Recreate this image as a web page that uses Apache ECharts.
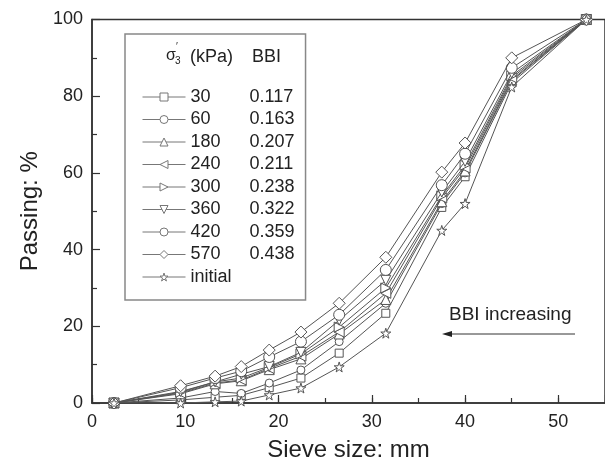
<!DOCTYPE html>
<html><head><meta charset="utf-8">
<script src="https://cdn.jsdelivr.net/npm/echarts@6/dist/echarts.min.js"></script>
<style>html,body{margin:0;padding:0;background:#fff}#c{width:605px;height:470px}</style>
</head><body><div id="c"></div>
<script>
// ---- data ----
const sieveSizes = [2.36, 9.5, 13.2, 16, 19, 22.4, 26.5, 31.5, 37.5, 40, 45, 53];
const seriesNames = ['30', '60', '180', '240', '300', '360', '420', '570', 'initial'];
const bbiValues = ['0.117', '0.163', '0.207', '0.211', '0.238', '0.322', '0.359', '0.438', ''];
const pass30   = [0, 0.8, 1.5, 2.0, 4.0, 6.5, 13.0, 23.4, 51.0, 59.0, 83.5, 100];
const pass60   = [0, 1.3, 3.0, 2.5, 5.2, 8.6, 16.0, 26.0, 52.0, 60.0, 84.0, 100];
const pass180  = [0, 2.4, 5.0, 5.8, 8.7, 11.5, 18.0, 27.0, 52.5, 60.5, 84.3, 100];
const pass240  = [0, 2.6, 5.2, 6.0, 9.0, 12.2, 18.5, 28.6, 53.5, 61.3, 84.8, 100];
const pass300  = [0, 2.8, 5.5, 6.5, 9.3, 12.8, 19.8, 30.0, 54.0, 62.0, 85.3, 100];
const pass360  = [0, 3.0, 5.5, 7.5, 9.5, 13.2, 21.6, 32.0, 55.0, 63.0, 86.0, 100];
const pass420  = [0, 4.0, 6.5, 8.3, 12.0, 16.0, 23.0, 34.7, 56.8, 65.0, 87.4, 100];
const pass570  = [0, 4.5, 7.0, 9.5, 13.8, 18.5, 26.0, 38.0, 60.2, 67.8, 90.0, 100];
const passInit = [0, 0, 0.3, 0.5, 2.1, 3.9, 9.4, 18.2, 45.0, 52.0, 82.4, 100];
const allPassing = [pass30, pass60, pass180, pass240, pass300, pass360, pass420, pass570, passInit];
const xTickLabels = [0, 10, 20, 30, 40, 50];
const yTickLabels = [0, 20, 40, 60, 80, 100];

// ---- styles ----
const STAR = 'path://M50,0 L61,35 L98,35 L68,57 L79,91 L50,70 L21,91 L32,57 L2,35 L39,35 Z';
const symbolStyles = [
  {symbol: 'rect', size: 8, rot: 0},
  {symbol: 'circle', size: 8, rot: 0},
  {symbol: 'triangle', size: 10, rot: 0},
  {symbol: 'triangle', size: 10, rot: 90},
  {symbol: 'triangle', size: 10, rot: -90},
  {symbol: 'triangle', size: 10, rot: 180},
  {symbol: 'circle', size: 11, rot: 0},
  {symbol: 'diamond', size: 12, rot: 0},
  {symbol: STAR, size: 10, rot: 0}
];
const FONT = 'Liberation Sans, Arial, sans-serif';
const INK = '#222';
const LINE = '#555';

const bbiMap = {};
seriesNames.forEach((n, i) => { bbiMap[n] = bbiValues[i]; });

const series = seriesNames.map((name, i) => ({
  name: name,
  type: 'line',
  xAxisIndex: 0,
  data: sieveSizes.map((x, j) => [x, allPassing[i][j]]),
  symbol: symbolStyles[i].symbol,
  symbolSize: symbolStyles[i].size,
  symbolRotate: symbolStyles[i].rot,
  showAllSymbol: true,
  lineStyle: {color: LINE, width: 1},
  itemStyle: {color: '#fff', borderColor: LINE, borderWidth: 1},
  emphasis: {disabled: true},
  animation: false,
  z: 3 + i
}));

const chart = echarts.init(document.getElementById('c'), null, {renderer: 'canvas'});
chart.setOption({
  backgroundColor: '#fff',
  animation: false,
  grid: {left: 92, top: 19.5, right: -7, bottom: 67, show: true, borderColor: '#333', borderWidth: 1.5, backgroundColor: 'transparent'},
  xAxis: [
    {
      type: 'value', min: 0, max: 55, interval: 5, position: 'bottom',
      axisLine: {show: true, lineStyle: {color: '#333', width: 1.5}},
      axisTick: {show: true, inside: true, length: 5, lineStyle: {color: '#333', width: 1.2}},
      axisLabel: {
        show: true, margin: 10, color: INK, fontFamily: FONT, fontSize: 18,
        showMaxLabel: false,
        formatter: v => (xTickLabels.indexOf(v) >= 0 ? String(v) : '')
      },
      splitLine: {show: false},
      name: 'Sieve size: mm', nameLocation: 'middle', nameGap: 35,
      nameTextStyle: {color: INK, fontFamily: FONT, fontSize: 24}
    },
    {
      type: 'value', min: 0, max: 55, interval: 10, position: 'bottom',
      axisLine: {show: false},
      axisTick: {show: true, inside: true, length: 8, lineStyle: {color: '#333', width: 1.2}},
      axisLabel: {show: false},
      splitLine: {show: false}
    }
  ],
  yAxis: {
    type: 'value', min: 0, max: 100, interval: 20,
    axisLine: {show: true, lineStyle: {color: '#333', width: 1.5}},
    axisTick: {show: true, inside: true, length: 8, lineStyle: {color: '#333', width: 1.2}},
    minorTick: {show: true, splitNumber: 2, length: 5, lineStyle: {color: '#333', width: 1.2}},
    axisLabel: {margin: 9, color: INK, fontFamily: FONT, fontSize: 18,
      formatter: v => (yTickLabels.indexOf(v) >= 0 ? String(v) : '')},
    splitLine: {show: false},
    name: 'Passing: %', nameLocation: 'middle', nameGap: 50,
    nameTextStyle: {color: INK, fontFamily: FONT, fontSize: 24}
  },
  legend: {
    show: true,
    orient: 'vertical',
    left: 125, top: 34,
    padding: [54, 11, 14, 17],
    borderColor: '#888', borderWidth: 1.5,
    backgroundColor: '#fff',
    itemWidth: 43, itemHeight: 10, itemGap: 4.5,
    selectedMode: false,
    symbolRotate: 'inherit',
    lineStyle: {width: 1, color: '#777'},
    itemStyle: {borderColor: '#777', borderWidth: 1},
    data: seriesNames,
    formatter: name => '{n|' + name + '}{b|' + bbiMap[name] + '}',
    textStyle: {
      color: INK, fontFamily: FONT, fontSize: 18, lineHeight: 14,
      rich: {
        n: {width: 59, fontFamily: FONT, fontSize: 18, color: INK, lineHeight: 14},
        b: {fontFamily: FONT, fontSize: 18, color: INK, lineHeight: 14}
      }
    }
  },
  graphic: [
    {type: 'text', left: 166, top: 48, z: 100, style: {text: 'σ', font: '16px ' + FONT, fill: INK}},
    {type: 'text', left: 175, top: 56, z: 100, style: {text: '3', font: '10px ' + FONT, fill: INK}},
    {type: 'text', left: 176, top: 42, z: 100, style: {text: '\u2032', font: '10px ' + FONT, fill: INK}},
    {type: 'text', left: 190, top: 48, z: 100, style: {text: '(kPa)', font: '18px ' + FONT, fill: INK}},
    {type: 'text', left: 252, top: 48, z: 100, style: {text: 'BBI', font: '18px ' + FONT, fill: INK}},
    {type: 'text', left: 449, top: 305, z: 100, style: {text: 'BBI increasing', font: '19px ' + FONT, fill: INK}},
    {type: 'line', z: 100, shape: {x1: 447, y1: 334, x2: 575, y2: 334}, style: {stroke: '#333', lineWidth: 1}},
    {type: 'polygon', z: 100, shape: {points: [[442, 334], [452, 331], [452, 337]]}, style: {fill: '#222'}}
  ],
  series: series
});
</script>
</body></html>
